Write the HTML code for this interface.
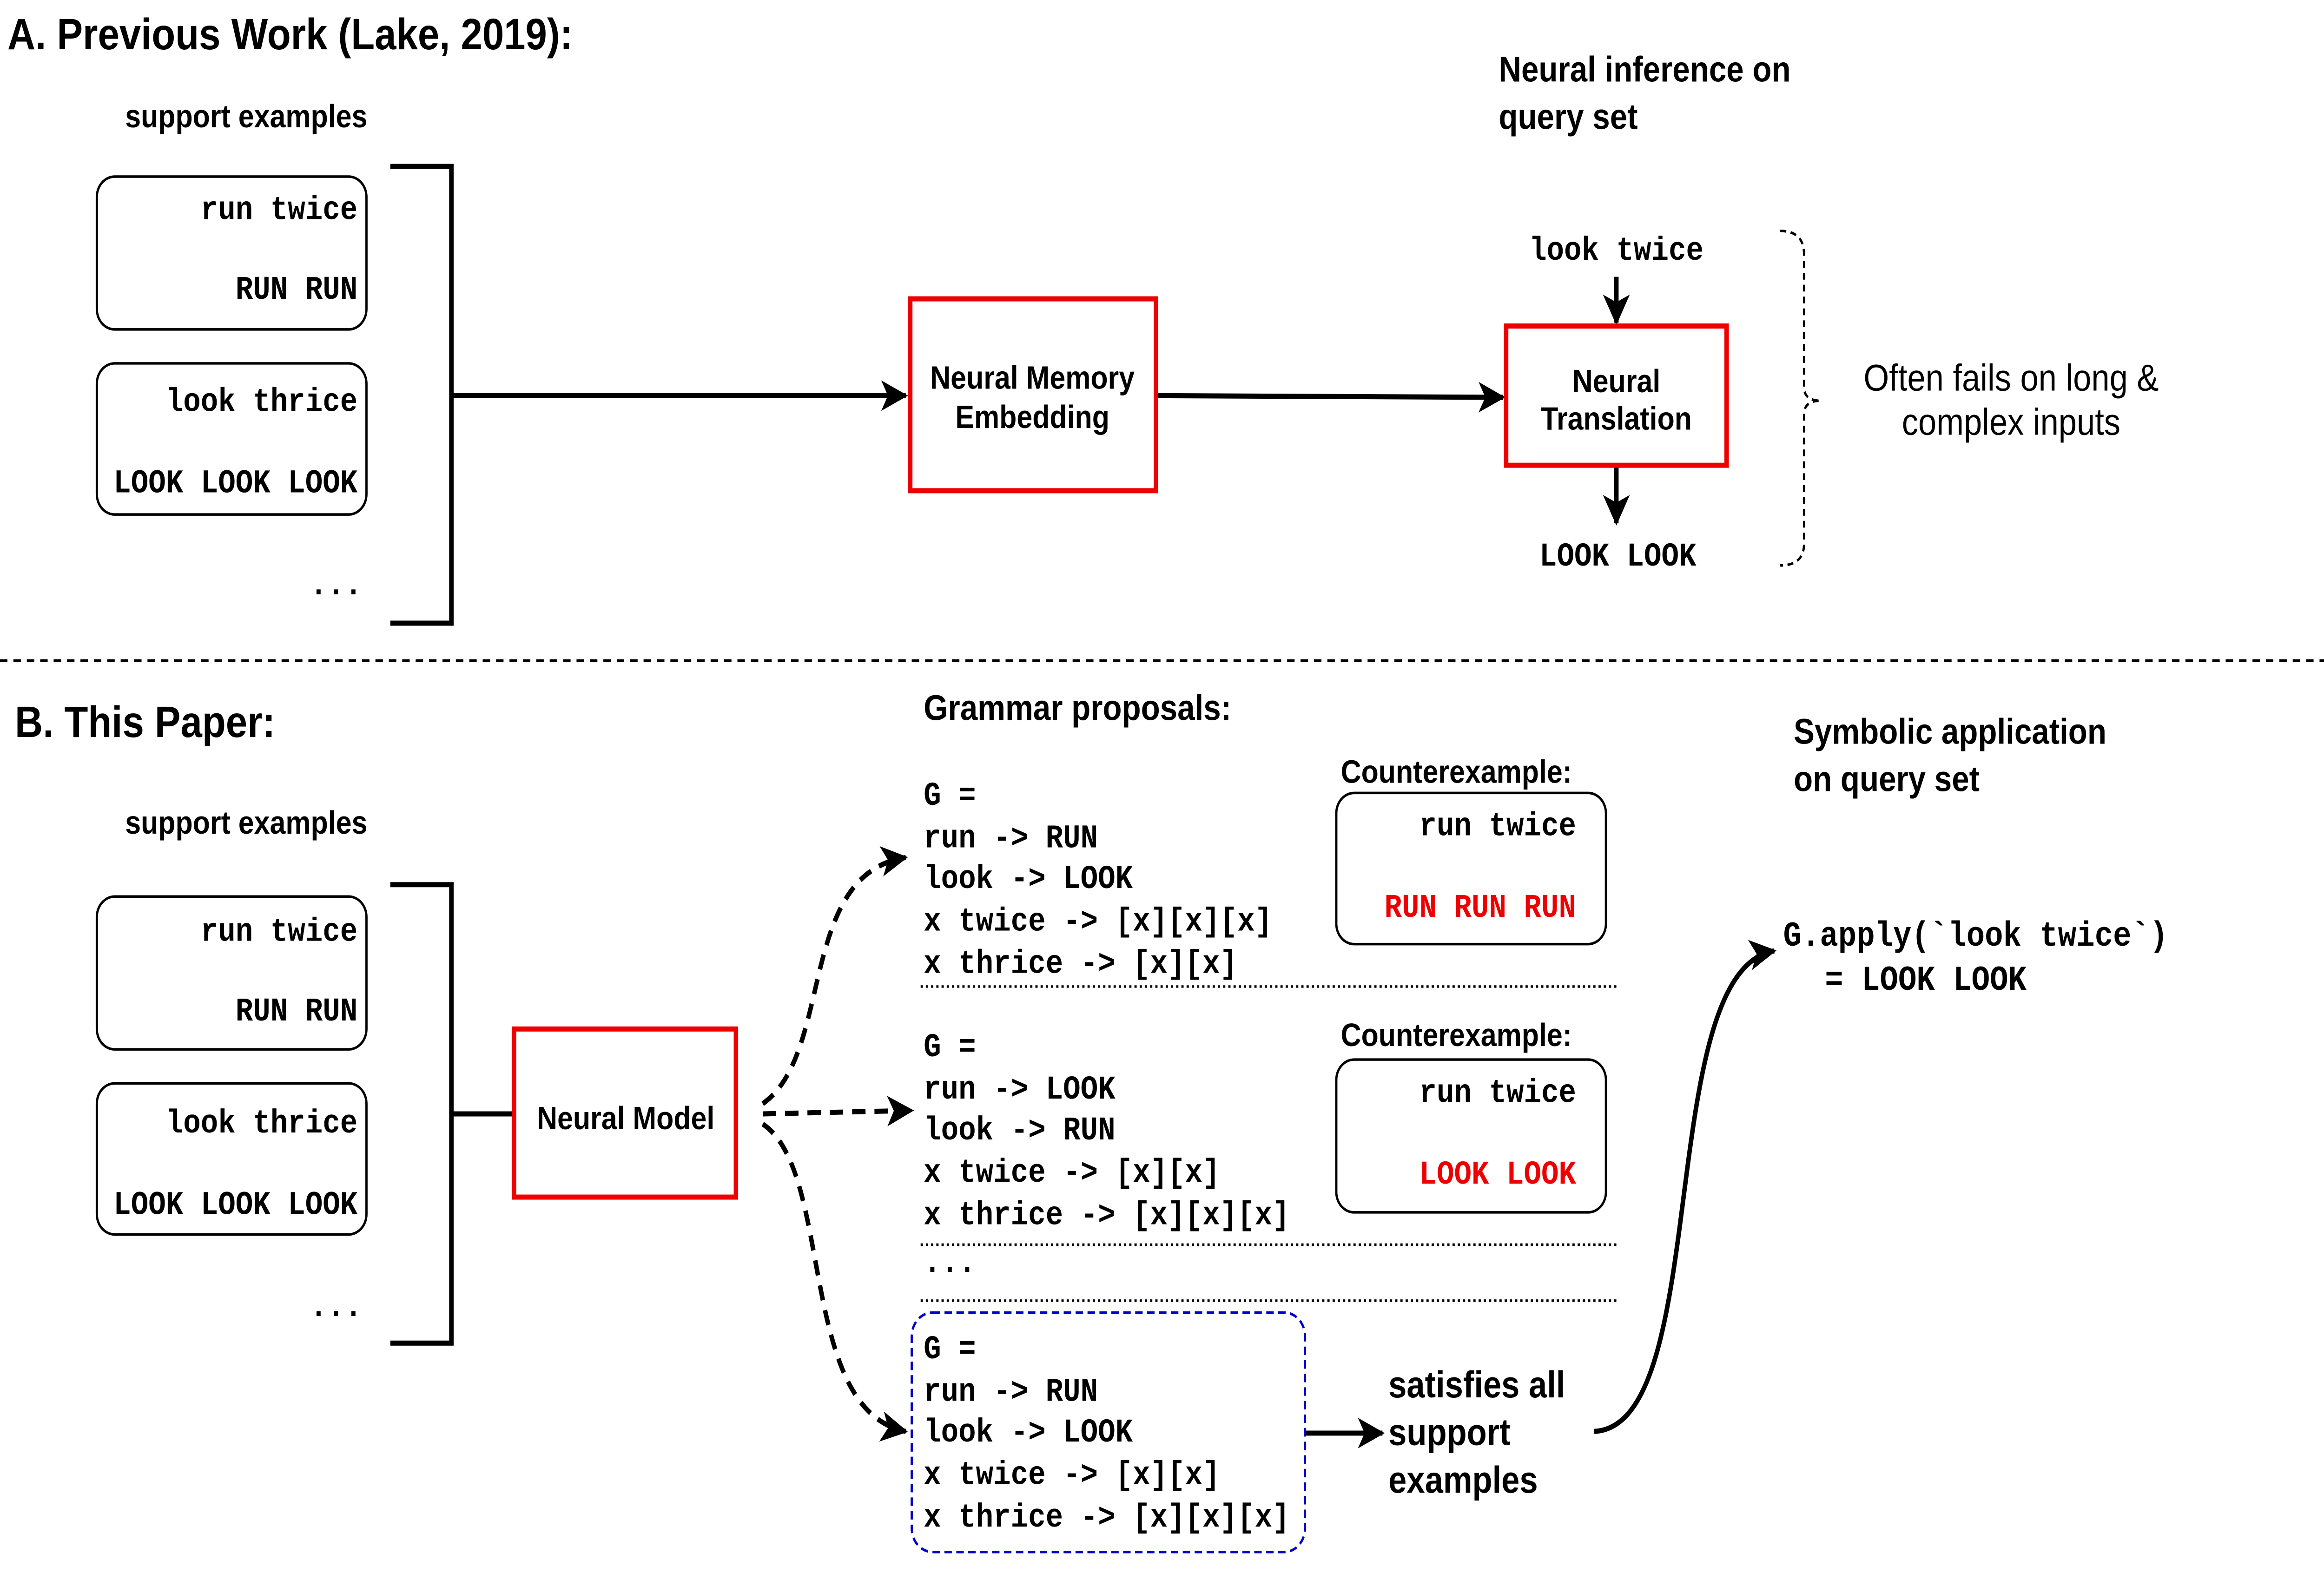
<!DOCTYPE html>
<html><head><meta charset="utf-8"><style>
html,body{margin:0;padding:0;background:#fff;width:100%;height:100%;overflow:hidden;}
svg{display:block;position:fixed;left:0;top:0;width:100vw;height:100vh;}
.s{font-family:"Liberation Sans",sans-serif;}
.b{font-weight:bold;}
.m{font-family:"Liberation Mono",monospace;font-weight:bold;font-size:19.5px;}
</style></head><body>
<svg viewBox="0 0 1560 930.5" preserveAspectRatio="none" xmlns="http://www.w3.org/2000/svg">
<defs>
<marker id="a" viewBox="0 0 12 12" refX="11" refY="6" markerWidth="18" markerHeight="18" markerUnits="userSpaceOnUse" orient="auto"><path d="M0,0 L12,6 L0,12 L3,6 z" fill="#000"/></marker>
</defs>
<rect width="1560" height="930.5" fill="#fff"/>
<g class="s b" fill="#000">
<text x="5" y="29" font-size="26">A. Previous Work (Lake, 2019):</text>
<text x="84" y="75" font-size="19">support examples</text>
<text x="1006" y="48" font-size="21">Neural inference on</text>
<text x="1006" y="76" font-size="21">query set</text>
<text x="10" y="434" font-size="26">B. This Paper:</text>
<text x="84" y="491" font-size="19">support examples</text>
<text x="620" y="424" font-size="21">Grammar proposals:</text>
<text x="900" y="461" font-size="19">Counterexample:</text>
<text x="900" y="616" font-size="19">Counterexample:</text>
<text x="1204" y="438" font-size="21">Symbolic application</text>
<text x="1204" y="466" font-size="21">on query set</text>
<text x="932" y="823" font-size="22">satisfies all</text>
<text x="932" y="851" font-size="22">support</text>
<text x="932" y="879" font-size="22">examples</text>
<g font-size="19" text-anchor="middle">
<text x="693" y="229">Neural Memory</text>
<text x="693" y="252">Embedding</text>
<text x="1085" y="231">Neural</text>
<text x="1085" y="253">Translation</text>
<text x="420" y="665">Neural Model</text>
</g>
</g>
<g class="s" font-size="22" text-anchor="middle"><text x="1350" y="230">Often fails on long &amp;</text><text x="1350" y="256">complex inputs</text></g>

<g fill="none" stroke="#000" stroke-width="1.5">
<rect x="65" y="104" width="181" height="90" rx="12"/>
<rect x="65" y="214" width="181" height="89" rx="12"/>
<rect x="65" y="528" width="181" height="90" rx="12"/>
<rect x="65" y="638" width="181" height="89" rx="12"/>
<rect x="897" y="467" width="181" height="89" rx="12"/>
<rect x="897" y="624" width="181" height="90" rx="12"/>
</g>
<g fill="none" stroke="#000" stroke-width="3">
<path d="M262 98 H303 V367 H262"/>
<path d="M262 521 H303 V791 H262"/>
<path d="M303 233 H608" marker-end="url(#a)"/>
<path d="M776 233 L1009 234" marker-end="url(#a)"/>
<path d="M1085 163 V190" marker-end="url(#a)"/>
<path d="M1085 274 V308" marker-end="url(#a)"/>
<path d="M303 656 H345"/>
<path d="M876 844 H928" marker-end="url(#a)"/>
<path d="M1070 843 C1150 840 1110 572 1191 560" marker-end="url(#a)"/>
</g>
<g fill="none" stroke="#000" stroke-width="3" stroke-dasharray="9,6">
<path d="M512 650 C560 620 535 515 608 505" marker-end="url(#a)"/>
<path d="M512 656 L612 654" marker-end="url(#a)"/>
<path d="M512 662 C560 690 535 830 608 843" marker-end="url(#a)"/>
</g>
<g fill="none" stroke="#e00" stroke-width="3">
<rect x="611" y="176" width="165" height="113"/>
<rect x="1011" y="192" width="148" height="82"/>
<rect x="345" y="606" width="149" height="99"/>
</g>
<rect x="612" y="773" width="264" height="141" rx="14" fill="none" stroke="#00c" stroke-width="1.5" stroke-dasharray="5,3"/>
<path d="M1195 136 Q1211 136 1211 150 V228 Q1211 236 1222 236 Q1211 236 1211 244 V320 Q1211 333 1195 333" fill="none" stroke="#000" stroke-width="1.5" stroke-dasharray="4,3"/>
<line x1="0" y1="389" x2="1560" y2="389" stroke="#000" stroke-width="1.5" stroke-dasharray="5,4"/>
<g stroke="#000" stroke-width="1.5" stroke-dasharray="1.5,2"><line x1="618" y1="581" x2="1086" y2="581"/><line x1="618" y1="733" x2="1086" y2="733"/><line x1="618" y1="766" x2="1086" y2="766"/></g>

<g class="m" fill="#000">
<g text-anchor="end">
<text x="240" y="129">run twice</text><text x="240" y="176">RUN RUN</text>
<text x="240" y="242">look thrice</text><text x="240" y="290">LOOK LOOK LOOK</text>
<text x="240" y="554">run twice</text><text x="240" y="601">RUN RUN</text>
<text x="240" y="667">look thrice</text><text x="240" y="715">LOOK LOOK LOOK</text>
<text x="1058" y="492">run twice</text><text x="1058" y="540" fill="#e00">RUN RUN RUN</text>
<text x="1058" y="649">run twice</text><text x="1058" y="697" fill="#e00">LOOK LOOK</text>
</g>
<text x="208" y="350">...</text><text x="208" y="775">...</text>
<g text-anchor="middle"><text x="1085" y="153">look twice</text><text x="1086" y="333">LOOK LOOK</text></g>
<text x="620" y="474">G =</text><text x="620" y="499">run -&gt; RUN</text><text x="620" y="523">look -&gt; LOOK</text><text x="620" y="548">x twice -&gt; [x][x][x]</text><text x="620" y="573">x thrice -&gt; [x][x]</text>
<text x="620" y="622">G =</text><text x="620" y="647">run -&gt; LOOK</text><text x="620" y="671">look -&gt; RUN</text><text x="620" y="696">x twice -&gt; [x][x]</text><text x="620" y="721">x thrice -&gt; [x][x][x]</text><text x="620" y="749">...</text>
<text x="620" y="800">G =</text><text x="620" y="825">run -&gt; RUN</text><text x="620" y="849">look -&gt; LOOK</text><text x="620" y="874">x twice -&gt; [x][x]</text><text x="620" y="899">x thrice -&gt; [x][x][x]</text>
<text x="1197" y="557" font-size="20.5">G.apply(`look twice`)</text>
<text x="1225" y="583" font-size="20.5">= LOOK LOOK</text>
</g>
</svg>
</body></html>
